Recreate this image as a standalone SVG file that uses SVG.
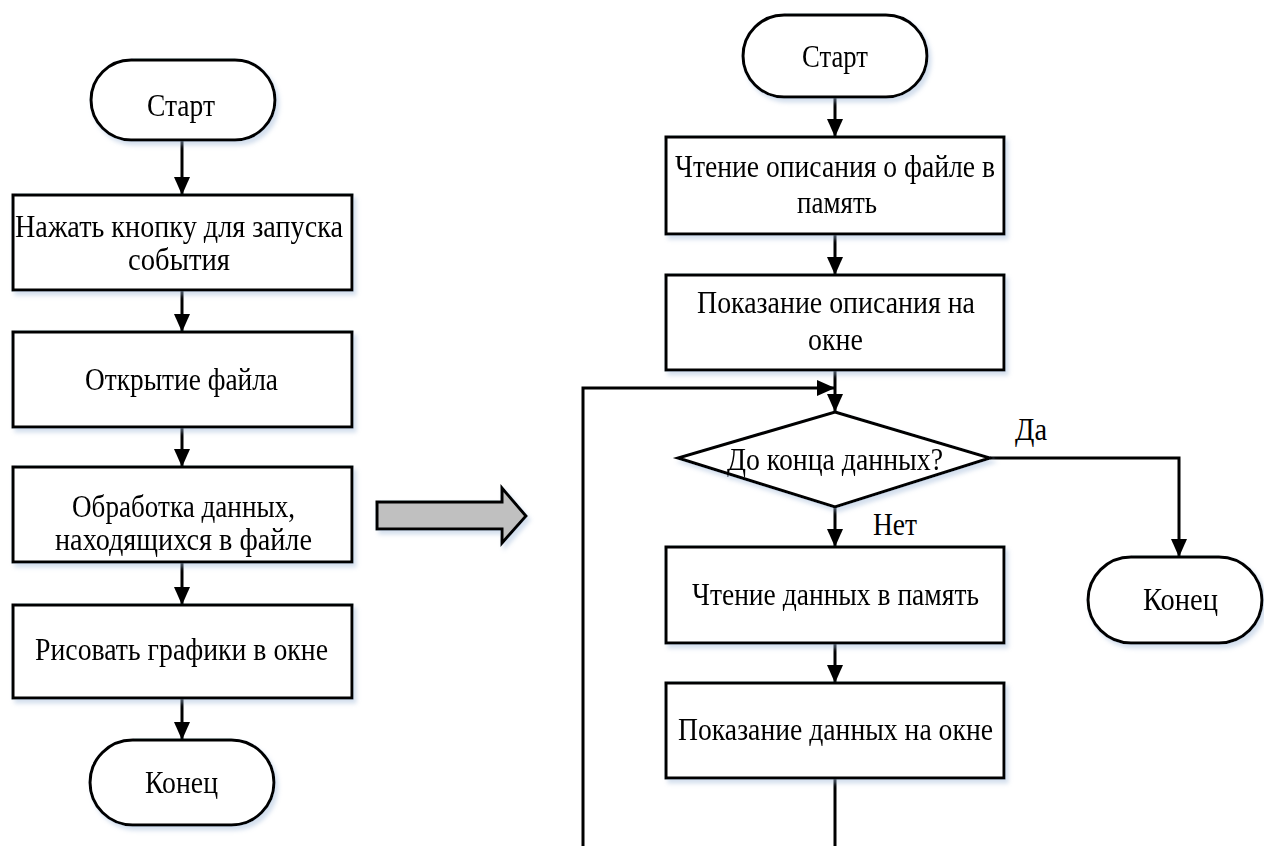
<svg xmlns="http://www.w3.org/2000/svg" width="1264" height="846" viewBox="0 0 1264 846">
<style>
.shape{fill:#fff;stroke:#000;stroke-width:3}
.t{font-family:"Liberation Serif","Times New Roman",serif;font-size:31px;fill:#000;text-anchor:middle}
.c{fill:none;stroke:#000;stroke-width:3}
</style>
<defs>
<marker id="ah" viewBox="0 0 18 16" refX="18" refY="8" markerWidth="18" markerHeight="16" markerUnits="userSpaceOnUse" orient="auto">
<path d="M0,0 L18,8 L0,16 z" fill="#000"/>
</marker>
<filter id="sh" x="-10%" y="-10%" width="125%" height="130%">
<feDropShadow dx="3" dy="4" stdDeviation="2" flood-color="#9fb8d8" flood-opacity="0.45"/>
</filter>
</defs>
<rect width="1264" height="846" fill="#fff"/>

<g id="connectors">
<path class="c" marker-end="url(#ah)" d="M182,140 V195"/>
<path class="c" marker-end="url(#ah)" d="M182,290 V332"/>
<path class="c" marker-end="url(#ah)" d="M182,427 V467"/>
<path class="c" marker-end="url(#ah)" d="M182,562 V605"/>
<path class="c" marker-end="url(#ah)" d="M182,698 V740"/>
<path class="c" marker-end="url(#ah)" d="M835,97 V137"/>
<path class="c" marker-end="url(#ah)" d="M835,234 V275"/>
<path class="c" marker-end="url(#ah)" d="M835,370 V412"/>
<path class="c" marker-end="url(#ah)" d="M583,846 V388 H835"/>
<path class="c" marker-end="url(#ah)" d="M835,507 V547"/>
<path class="c" marker-end="url(#ah)" d="M835,643 V683"/>
<path class="c" d="M835,778 V846"/>
<path class="c" marker-end="url(#ah)" d="M990,458 H1179 V557"/>
<text class="t" x="1031" y="440" textLength="32" lengthAdjust="spacingAndGlyphs">Да</text>
<text class="t" x="895" y="535" textLength="44" lengthAdjust="spacingAndGlyphs">Нет</text>
</g>

<g id="big-arrow" filter="url(#sh)">
<path d="M377,502 H502 V488 L526,516 L502,543 V529 H377 Z" fill="#c0c0c0" stroke="#000" stroke-width="3"/>
</g>

<g id="l-start" filter="url(#sh)">
<rect class="shape" x="91" y="60" width="184" height="80" rx="40"/>
<text class="t" x="181" y="116" textLength="68" lengthAdjust="spacingAndGlyphs">Старт</text>
</g>
<g id="l-press" filter="url(#sh)">
<rect class="shape" x="13" y="195" width="339" height="95"/>
<text class="t" x="179" y="237" textLength="328" lengthAdjust="spacingAndGlyphs">Нажать кнопку для запуска</text>
<text class="t" x="179" y="270" textLength="102" lengthAdjust="spacingAndGlyphs">события</text>
</g>
<g id="l-open" filter="url(#sh)">
<rect class="shape" x="13" y="332" width="339" height="95"/>
<text class="t" x="181.5" y="390" textLength="193" lengthAdjust="spacingAndGlyphs">Открытие файла</text>
</g>
<g id="l-process" filter="url(#sh)">
<rect class="shape" x="13" y="467" width="339" height="95"/>
<text class="t" x="183.5" y="517" textLength="223" lengthAdjust="spacingAndGlyphs">Обработка данных,</text>
<text class="t" x="183.5" y="550" textLength="257" lengthAdjust="spacingAndGlyphs">находящихся в файле</text>
</g>
<g id="l-draw" filter="url(#sh)">
<rect class="shape" x="13" y="605" width="339" height="93"/>
<text class="t" x="181.5" y="660" textLength="293" lengthAdjust="spacingAndGlyphs">Рисовать графики в окне</text>
</g>
<g id="l-end" filter="url(#sh)">
<rect class="shape" x="90" y="740" width="184" height="85" rx="42.5"/>
<text class="t" x="181.5" y="793" textLength="73" lengthAdjust="spacingAndGlyphs">Конец</text>
</g>

<g id="r-start" filter="url(#sh)">
<rect class="shape" x="743" y="15" width="184" height="82" rx="41"/>
<text class="t" x="835" y="67" textLength="66" lengthAdjust="spacingAndGlyphs">Старт</text>
</g>
<g id="r-read-desc" filter="url(#sh)">
<rect class="shape" x="666" y="137" width="338" height="97"/>
<text class="t" x="835" y="177" textLength="320" lengthAdjust="spacingAndGlyphs">Чтение описания о файле в</text>
<text class="t" x="837" y="213" textLength="80" lengthAdjust="spacingAndGlyphs">память</text>
</g>
<g id="r-show-desc" filter="url(#sh)">
<rect class="shape" x="666" y="275" width="338" height="95"/>
<text class="t" x="836" y="313" textLength="278" lengthAdjust="spacingAndGlyphs">Показание описания на</text>
<text class="t" x="835.5" y="350" textLength="55" lengthAdjust="spacingAndGlyphs">окне</text>
</g>
<g id="r-decision" filter="url(#sh)">
<path class="shape" d="M835,412 L990,458 L835,507 L678,458 Z"/>
<text class="t" x="835" y="470" textLength="216" lengthAdjust="spacingAndGlyphs">До конца данных?</text>
</g>
<g id="r-read-data" filter="url(#sh)">
<rect class="shape" x="666" y="547" width="338" height="96"/>
<text class="t" x="835.5" y="605" textLength="287" lengthAdjust="spacingAndGlyphs">Чтение данных в память</text>
</g>
<g id="r-show-data" filter="url(#sh)">
<rect class="shape" x="666" y="683" width="338" height="95"/>
<text class="t" x="835.5" y="740" textLength="315" lengthAdjust="spacingAndGlyphs">Показание данных на окне</text>
</g>
<g id="r-end" filter="url(#sh)">
<rect class="shape" x="1088" y="557" width="174" height="86" rx="43"/>
<text class="t" x="1180.5" y="610" textLength="75" lengthAdjust="spacingAndGlyphs">Конец</text>
</g>
</svg>
